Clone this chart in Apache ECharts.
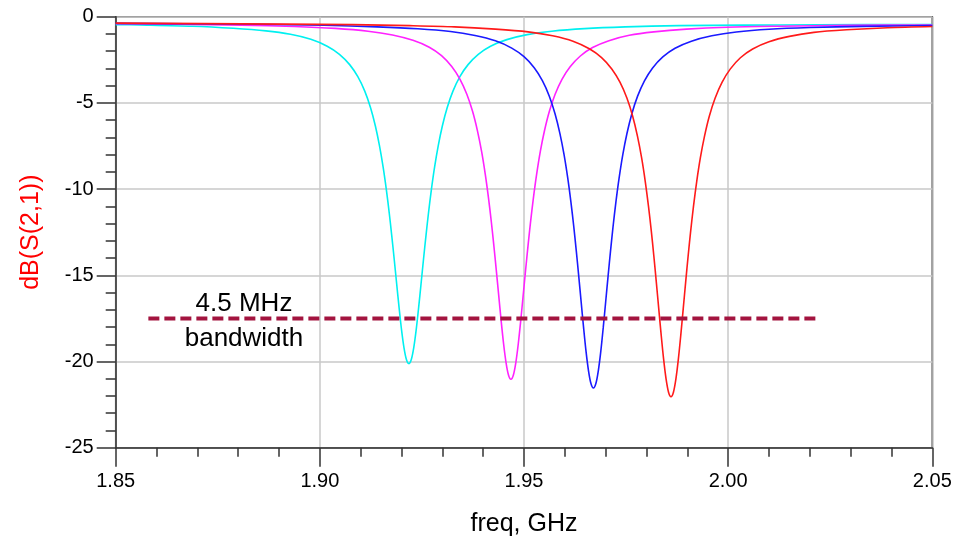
<!DOCTYPE html>
<html>
<head>
<meta charset="utf-8">
<script src="https://cdn.jsdelivr.net/npm/echarts@6/dist/echarts.min.js"></script>
<style>
html,body{margin:0;padding:0;background:#fff;}
#chart{width:965px;height:539px;}
</style>
</head>
<body>
<div id="chart"></div>
<script>
// ---- data (freq in GHz, dB(S(2,1))) ----
var freqCyan = [1.8500,1.8558,1.8688,1.8788,1.8868,1.8928,1.8978,1.9018,1.9048,1.9073,1.9093,1.9110,1.9124,1.9136,1.9146,1.9155,1.9163,1.9170,1.9176,1.9182,1.9188,1.9194,1.9200,1.9206,1.9212,1.9218,
  1.9224,1.9230,1.9236,1.9242,1.9248,1.9254,1.9260,1.9266,1.9273,1.9281,1.9290,1.9300,1.9312,1.9326,1.9343,1.9363,1.9388,1.9418,1.9458,1.9508,1.9568,1.9648,1.9748,1.9878,2.0038,2.0218,2.0500];
var dbCyan = [-0.46,-0.48,-0.55,-0.67,-0.82,-1.02,-1.31,-1.71,-2.18,-2.78,-3.48,-4.32,-5.27,-6.34,-7.48,-8.73,-10.06,-11.40,-12.68,-14.04,-15.46,-16.86,-18.15,-19.19,-19.88,-20.12,
  -19.88,-19.19,-18.15,-16.86,-15.46,-14.04,-12.68,-11.40,-10.06,-8.73,-7.48,-6.34,-5.27,-4.32,-3.48,-2.78,-2.18,-1.71,-1.33,-1.04,-0.84,-0.69,-0.59,-0.52,-0.49,-0.47,-0.45];

var freqMagenta = [1.8500,1.8648,1.8808,1.8938,1.9038,1.9118,1.9178,1.9228,1.9268,1.9298,1.9323,1.9343,1.9360,1.9374,1.9386,1.9396,1.9405,1.9413,1.9420,1.9426,1.9432,1.9438,1.9444,1.9450,1.9456,1.9462,1.9468,
  1.9474,1.9480,1.9486,1.9492,1.9498,1.9504,1.9510,1.9516,1.9523,1.9531,1.9540,1.9550,1.9562,1.9576,1.9593,1.9613,1.9638,1.9668,1.9708,1.9758,1.9818,1.9898,1.9998,2.0128,2.0288,2.0500];
var dbMagenta = [-0.40,-0.44,-0.49,-0.57,-0.68,-0.84,-1.06,-1.37,-1.77,-2.26,-2.89,-3.62,-4.50,-5.49,-6.62,-7.80,-9.12,-10.51,-11.91,-13.24,-14.67,-16.15,-17.63,-18.97,-20.06,-20.78,-21.03,
  -20.78,-20.06,-18.97,-17.63,-16.16,-14.68,-13.25,-11.92,-10.52,-9.13,-7.81,-6.63,-5.50,-4.51,-3.63,-2.90,-2.28,-1.79,-1.39,-1.08,-0.88,-0.72,-0.61,-0.55,-0.50,-0.48];

var freqBlue = [1.850,1.867,1.885,1.901,1.914,1.924,1.932,1.938,1.943,1.947,1.950,1.9525,1.9545,1.9562,1.9576,1.9588,1.9598,1.9607,1.9615,1.9622,1.9628,1.9634,1.9640,1.9646,1.9652,1.9658,1.9664,1.9670,
  1.9676,1.9682,1.9688,1.9694,1.9700,1.9706,1.9712,1.9718,1.9725,1.9733,1.9742,1.9752,1.9764,1.9778,1.9795,1.9815,1.9840,1.9870,1.9910,1.9960,2.0020,2.0100,2.0200,2.0330,2.0500];
var dbBlue = [-0.39,-0.41,-0.44,-0.50,-0.59,-0.70,-0.86,-1.09,-1.40,-1.82,-2.32,-2.96,-3.71,-4.61,-5.63,-6.78,-7.99,-9.34,-10.77,-12.20,-13.57,-15.03,-16.55,-18.05,-19.43,-20.54,-21.28,-21.54,
  -21.28,-20.54,-19.43,-18.05,-16.55,-15.03,-13.57,-12.20,-10.77,-9.35,-8.00,-6.79,-5.64,-4.62,-3.72,-2.97,-2.33,-1.83,-1.42,-1.11,-0.89,-0.73,-0.63,-0.56,-0.51];

var freqRed = [1.850,1.871,1.891,1.908,1.922,1.933,1.943,1.951,1.957,1.962,1.966,1.969,1.9715,1.9735,1.9752,1.9766,1.9778,1.9788,1.9797,1.9805,1.9812,1.9818,1.9824,1.9830,1.9836,1.9842,1.9848,1.9854,1.9860,
  1.9866,1.9872,1.9878,1.9884,1.9890,1.9896,1.9902,1.9908,1.9915,1.9923,1.9932,1.9942,1.9954,1.9968,1.9985,2.0005,2.0030,2.0060,2.0100,2.0150,2.0210,2.0290,2.0390,2.0500];
var dbRed = [-0.37,-0.40,-0.43,-0.46,-0.52,-0.59,-0.72,-0.88,-1.11,-1.42,-1.86,-2.37,-3.03,-3.80,-4.72,-5.76,-6.94,-8.18,-9.56,-11.02,-12.48,-13.88,-15.38,-16.93,-18.47,-19.88,-21.02,-21.78,-22.04,
  -21.78,-21.02,-19.88,-18.47,-16.93,-15.38,-13.88,-12.48,-11.02,-9.56,-8.18,-6.94,-5.76,-4.73,-3.81,-3.04,-2.38,-1.87,-1.45,-1.14,-0.91,-0.76,-0.64,-0.57];

var bandFreq = [1.858, 2.022];
var bandDb   = [-17.5, -17.5];

var xTicks = {min: 1.85, max: 2.05, step: 0.05};
var yTicks = {min: -25, max: 0, step: 5};
var noteLines = ['4.5 MHz', 'bandwidth'];

function zip(a, b) { return a.map(function (v, i) { return [v, b[i]]; }); }

var FONT = '"Liberation Sans", Arial, Helvetica, sans-serif';
var chart = echarts.init(document.getElementById('chart'), null, {renderer: 'canvas'});

function curve(name, color, f, d) {
  return {
    name: name, type: 'line', data: zip(f, d), showSymbol: false, symbol: 'none',
    smooth: 0.3, lineStyle: {color: color, width: 1.6}, z: 3
  };
}

var option = {
  animation: false,
  backgroundColor: '#fff',
  grid: {left: 115.7, right: 32.7, top: 16.7, bottom: 91.3, show: true, containLabel: false,
         outerBoundsMode: 'none',
         borderColor: '#333', borderWidth: 1.5, backgroundColor: 'transparent'},
  xAxis: {
    type: 'value', min: xTicks.min, max: xTicks.max, interval: xTicks.step,
    name: 'freq, GHz', nameLocation: 'middle', nameGap: 64,
    nameTextStyle: {color: '#000', fontSize: 25, fontFamily: FONT},
    axisLine: {show: true, onZero: false, lineStyle: {color: '#333', width: 1.5}},
    axisTick: {show: true, length: 19, lineStyle: {color: '#333', width: 1.5}},
    minorTick: {show: true, splitNumber: 5, length: 9, lineStyle: {color: '#333', width: 1.5}},
    axisLabel: {color: '#000', fontSize: 20, fontFamily: FONT, margin: 24,
                formatter: function (v) { return v.toFixed(2); }},
    splitLine: {show: true, lineStyle: {color: '#c8c8c8', width: 1.5}},
    minorSplitLine: {show: false}
  },
  yAxis: {
    type: 'value', min: yTicks.min, max: yTicks.max, interval: yTicks.step,
    name: 'dB(S(2,1))', nameLocation: 'middle', nameGap: 72, nameRotate: 90,
    nameTextStyle: {color: '#ff0000', fontSize: 25, fontFamily: FONT},
    axisLine: {show: true, onZero: false, lineStyle: {color: '#333', width: 1.5}},
    axisTick: {show: true, length: 19, lineStyle: {color: '#333', width: 1.5}},
    minorTick: {show: true, splitNumber: 5, length: 10, lineStyle: {color: '#333', width: 1.5}},
    axisLabel: {color: '#000', fontSize: 20, fontFamily: FONT, margin: 22,
                formatter: function (v) { return String(Math.round(v)); }},
    splitLine: {show: true, lineStyle: {color: '#c8c8c8', width: 1.5}},
    minorSplitLine: {show: false}
  },
  series: [
    curve('cyan', '#00f0f0', freqCyan, dbCyan),
    curve('magenta', '#ff22ff', freqMagenta, dbMagenta),
    curve('blue', '#1a1aff', freqBlue, dbBlue),
    curve('red', '#ff1a1a', freqRed, dbRed),
    {
      name: 'bandwidth', type: 'line', data: zip(bandFreq, bandDb), symbol: 'none',
      lineStyle: {color: '#a3143f', width: 4, type: [11, 5]}, z: 4
    }
  ],
  graphic: [
    {type: 'text', x: 244, y: 304, z: 10,
     style: {text: noteLines[0], fill: '#000', font: '26px ' + FONT, align: 'center', verticalAlign: 'middle',
             textAlign: 'center', textVerticalAlign: 'middle'}},
    {type: 'text', x: 244, y: 339, z: 10,
     style: {text: noteLines[1], fill: '#000', font: '26px ' + FONT, align: 'center', verticalAlign: 'middle',
             textAlign: 'center', textVerticalAlign: 'middle'}}
  ]
};
chart.setOption(option);
</script>
</body>
</html>
